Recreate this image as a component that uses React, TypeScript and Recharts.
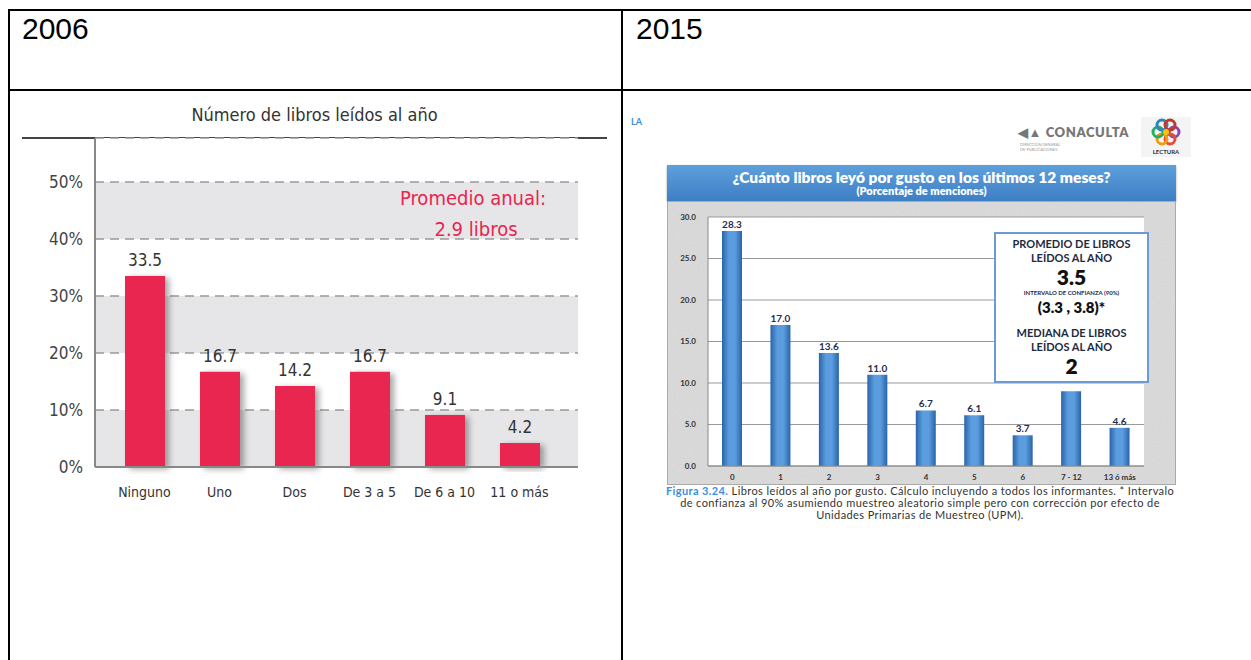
import React from "react";
import {
  BarChart,
  Bar,
  XAxis,
  YAxis,
  CartesianGrid,
  LabelList,
} from "recharts";

// 2006 — Número de libros leídos al año (%)
const cats2006 = ["Ninguno", "Uno", "Dos", "De 3 a 5", "De 6 a 10", "11 o más"];
const vals2006 = [33.5, 16.7, 14.2, 16.7, 9.1, 4.2];
const ticks2006 = [0, 10, 20, 30, 40, 50];

// 2015 — ¿Cuánto libros leyó por gusto en los últimos 12 meses?
const cats2015 = ["0", "1", "2", "3", "4", "5", "6", "7 - 12", "13 ó más"];
const vals2015 = [28.3, 17.0, 13.6, 11.0, 6.7, 6.1, 3.7, 9.0, 4.6];
const labels2015 = ["28.3", "17.0", "13.6", "11.0", "6.7", "6.1", "3.7", "", "4.6"];
const ticks2015 = [0, 5, 10, 15, 20, 25, 30];

const data2006 = cats2006.map((c, i) => ({ cat: c, v: vals2006[i] }));
const data2015 = cats2015.map((c, i) => ({ cat: c, v: vals2015[i], lbl: labels2015[i] }));

const narrow = "'DejaVu Sans Condensed', 'Liberation Sans Narrow', 'Liberation Sans', sans-serif";
const calib = "Lato, 'Open Sans', 'Liberation Sans', sans-serif";
const pink = "#E8254F";

const abs = (l: number, t: number, extra: React.CSSProperties = {}): React.CSSProperties => ({
  position: "absolute",
  left: l,
  top: t,
  ...extra,
});

function Left2006() {
  return (
    <>
      <div
        style={abs(22, 104, {
          width: 585,
          textAlign: "center",
          fontFamily: narrow,
          fontSize: 18,
          color: "#333",
        })}
      >
        Número de libros leídos al año
      </div>
      <div style={abs(22, 137, { width: 585, height: 2, background: "#444" })} />
      <div style={abs(22, 130)}>
        <BarChart
          width={585}
          height={380}
          data={data2006}
          margin={{ top: 8, right: 29, bottom: 0, left: 0 }}
          barSize={40}
        >
          <defs>
            <filter id="barShadow" x="-30%" y="-10%" width="180%" height="130%">
              <feDropShadow dx="4" dy="2" stdDeviation="3" floodColor="#000" floodOpacity="0.35" />
            </filter>
          </defs>
          <CartesianGrid
            vertical={false}
            stroke="#999"
            strokeWidth={1.5}
            strokeDasharray="9 6"
            horizontalFill={["#fff", "#E6E6E8"]}
            fillOpacity={1}
          />
          <XAxis
            dataKey="cat"
            tickLine={false}
            axisLine={{ stroke: "#888", strokeWidth: 2 }}
            padding={{ left: 12, right: 21 }}
            tick={{ fontSize: 14, fill: "#333", fontFamily: narrow }}
            tickMargin={14}
            height={43}
            interval={0}
          />
          <YAxis
            type="number"
            domain={[0, 57.7]}
            ticks={ticks2006}
            width={73}
            tickLine={false}
            axisLine={{ stroke: "#888", strokeWidth: 2 }}
            tickFormatter={(t) => `${t}%`}
            tick={{ fontSize: 17, fill: "#444", fontFamily: narrow }}
            tickMargin={6}
          />
          <Bar dataKey="v" fill={pink} isAnimationActive={false} style={{ filter: "url(#barShadow)" }}>
            <LabelList
              dataKey="v"
              position="top"
              offset={10}
              formatter={(v: number) => v.toFixed(1)}
              style={{ fontSize: 17, fill: "#333", fontFamily: narrow }}
            />
          </Bar>
        </BarChart>
      </div>
      <div
        style={abs(378, 183, {
          width: 190,
          textAlign: "center",
          fontFamily: narrow,
          fontSize: 20,
          color: pink,
          lineHeight: "31px",
        })}
      >
        Promedio anual:
        <br />
        <span style={{ marginLeft: 6 }}>2.9 libros</span>
      </div>
    </>
  );
}

function FlowerLogo() {
  const petals = ["#8E44AD", "#E74C3C", "#F39C12", "#27AE60", "#2E86C1", "#C0392B"];
  return (
    <svg width={50} height={40} style={abs(1141, 117)}>
      <rect x={0} y={0} width={50} height={40} fill="#F4F4F4" />
      {petals.map((c, i) => {
        const a = (i / petals.length) * Math.PI * 2;
        return (
          <circle
            key={c}
            cx={25 + Math.cos(a) * 8}
            cy={15 + Math.sin(a) * 8}
            r={5}
            fill="none"
            stroke={c}
            strokeWidth={3}
          />
        );
      })}
      <circle cx={25} cy={15} r={3} fill="#F1C40F" />
      <text x={25} y={37} textAnchor="middle" fontSize={6} fontWeight={700} fill="#333" fontFamily={calib}>
        LECTURA
      </text>
    </svg>
  );
}

function Right2015() {
  return (
    <>
      <div style={abs(631, 116, { fontFamily: calib, fontWeight: 700, fontSize: 9, color: "#3C8DDE" })}>
        LA
      </div>
      <div
        style={abs(1018, 124, {
          fontFamily: calib,
          fontWeight: 800,
          fontSize: 13,
          color: "#777",
          letterSpacing: 0.6,
        })}
      >
        ◀▲ CONACULTA
      </div>
      <div style={abs(1020, 142, { fontFamily: calib, fontSize: 4, color: "#999", lineHeight: "5px" })}>
        DIRECCIÓN GENERAL
        <br />
        DE PUBLICACIONES
      </div>
      <FlowerLogo />

      <div
        style={abs(667, 165, {
          width: 509,
          height: 36,
          background: "linear-gradient(#5E9FDD, #3D7FC4)",
          boxShadow: "0 1px 2px rgba(0,0,0,0.4)",
          color: "#fff",
          textAlign: "center",
          fontFamily: calib,
          fontWeight: 800,
        })}
      >
        <div style={{ fontSize: 15.5, lineHeight: "15px", paddingTop: 5 }}>
          ¿Cuánto libros leyó por gusto en los últimos 12 meses?
        </div>
        <div style={{ fontSize: 11, lineHeight: "11px" }}>(Porcentaje de menciones)</div>
      </div>

      <div style={abs(667, 201, { width: 509, height: 284, background: "#DEDEDE" })}>
        <svg width={509} height={284} style={{ position: "absolute", left: 0, top: 0 }}>
          <filter id="grain">
            <feTurbulence type="fractalNoise" baseFrequency="0.9" numOctaves={2} seed={3} />
            <feColorMatrix values="0 0 0 0 0.55  0 0 0 0 0.55  0 0 0 0 0.55  0 0 0 0.45 0" />
          </filter>
          <rect width={509} height={284} filter="url(#grain)" />
          <rect x={0.5} y={0.5} width={508} height={283} fill="none" stroke="#AAA" />
        </svg>
        <div style={{ position: "absolute", left: 0, top: 0 }}>
          <BarChart
            width={509}
            height={284}
            data={data2015}
            margin={{ top: 16, right: 32, bottom: 0, left: 0 }}
            barSize={20}
          >
            <defs>
              <linearGradient id="blueBar" x1="0" y1="0" x2="1" y2="0">
                <stop offset="0%" stopColor="#2A64A8" />
                <stop offset="35%" stopColor="#5B9DDF" />
                <stop offset="65%" stopColor="#5B9DDF" />
                <stop offset="100%" stopColor="#2A64A8" />
              </linearGradient>
            </defs>
            <CartesianGrid vertical={false} stroke="#999" fill="#fff" />
            <XAxis
              dataKey="cat"
              tickLine={false}
              axisLine={{ stroke: "#888" }}
              tick={{ fontSize: 8, fill: "#333", fontWeight: 700, fontFamily: calib }}
              tickMargin={2}
              height={19}
              interval={0}
            />
            <YAxis
              type="number"
              domain={[0, 30]}
              ticks={ticks2015}
              width={41}
              tickLine={false}
              axisLine={{ stroke: "#888" }}
              tickFormatter={(t) => t.toFixed(1)}
              tick={{ fontSize: 8, fill: "#333", fontWeight: 700, fontFamily: calib }}
              tickMargin={6}
            />
            <Bar dataKey="v" fill="url(#blueBar)" isAnimationActive={false}>
              <LabelList
                dataKey="lbl"
                position="top"
                offset={3}
                style={{ fontSize: 10, fill: "#1F2F4F", fontWeight: 700, fontFamily: calib }}
              />
            </Bar>
          </BarChart>
        </div>
      </div>

      <div
        style={abs(994, 232, {
          width: 155,
          height: 151,
          background: "#fff",
          border: "2px solid #6B9BD2",
          boxSizing: "border-box",
          textAlign: "center",
          fontFamily: calib,
          fontWeight: 700,
          color: "#1E2A3E",
        })}
      >
        <div style={{ fontSize: 11, lineHeight: "14px", marginTop: 3 }}>
          PROMEDIO DE LIBROS
          <br />
          LEÍDOS AL AÑO
        </div>
        <div style={{ fontSize: 21, fontWeight: 800, lineHeight: "23px", color: "#111" }}>3.5</div>
        <div style={{ fontSize: 6, lineHeight: "8px", marginTop: 1 }}>INTERVALO DE CONFIANZA (90%)</div>
        <div style={{ fontSize: 15, fontWeight: 800, lineHeight: "20px", color: "#111" }}>(3.3 , 3.8)*</div>
        <div style={{ fontSize: 11, lineHeight: "14px", marginTop: 9 }}>
          MEDIANA DE LIBROS
          <br />
          LEÍDOS AL AÑO
        </div>
        <div style={{ fontSize: 21, fontWeight: 800, lineHeight: "24px", color: "#111" }}>2</div>
      </div>

      <div
        style={abs(620, 485, {
          width: 600,
          textAlign: "center",
          fontFamily: calib,
          fontSize: 11,
          letterSpacing: 0.4,
          lineHeight: "12px",
          color: "#333",
        })}
      >
        <span style={{ color: "#3C8DDE", fontWeight: 700 }}>Figura 3.24.</span> Libros leídos al año por
        gusto. Cálculo incluyendo a todos los informantes. * Intervalo
        <br />
        de confianza al 90% asumiendo muestreo aleatorio simple pero con corrección por efecto de
        <br />
        Unidades Primarias de Muestreo (UPM).
      </div>
    </>
  );
}

export default function App() {
  return (
    <div style={abs(0, 0, { width: 1251, height: 660, background: "#fff", overflow: "hidden" })}>
      {/* table frame */}
      <div style={abs(8, 9, { width: 1243, height: 2, background: "#000" })} />
      <div style={abs(8, 89, { width: 1243, height: 2, background: "#000" })} />
      <div style={abs(8, 9, { width: 2, height: 651, background: "#000" })} />
      <div style={abs(621, 9, { width: 2, height: 651, background: "#000" })} />
      <div style={abs(22, 12, { fontFamily: "'Liberation Sans', Arial, sans-serif", fontSize: 30 })}>2006</div>
      <div style={abs(636, 12, { fontFamily: "'Liberation Sans', Arial, sans-serif", fontSize: 30 })}>2015</div>

      <Left2006 />
      <Right2015 />
    </div>
  );
}
